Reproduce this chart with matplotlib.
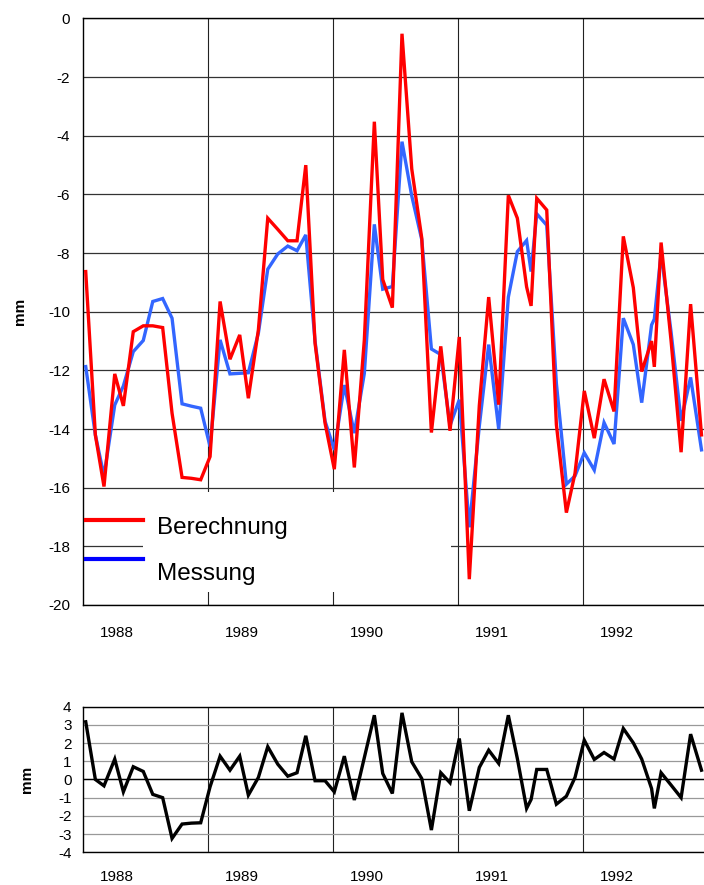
### Berechnung vs. Messung (mm) with difference panel ###

import matplotlib
matplotlib.use("Agg")
import matplotlib.pyplot as plt
from matplotlib.patches import Rectangle

plt.rcParams['font.family'] = ['Liberation Sans', 'DejaVu Sans']
plt.rcParams['axes.unicode_minus'] = False   # plain hyphen like the original

# sample dates as decimal years
dates = [1988.024, 1988.101, 1988.170, 1988.256, 1988.325, 1988.404, 1988.484, 1988.560, 1988.639, 1988.714, 1988.794, 1988.868, 1988.943,
         1989.018, 1989.098, 1989.177, 1989.255, 1989.324, 1989.404, 1989.479, 1989.559, 1989.639, 1989.713, 1989.783, 1989.857, 1989.937,
         1990.011, 1990.091, 1990.171, 1990.251, 1990.331, 1990.398, 1990.475, 1990.552, 1990.630, 1990.710, 1990.787, 1990.862, 1990.936,
         1991.010, 1991.090, 1991.170, 1991.245, 1991.325, 1991.402, 1991.474, 1991.548, 1991.584, 1991.629, 1991.709, 1991.786, 1991.866, 1991.935,
         1992.009, 1992.089, 1992.167, 1992.247, 1992.321, 1992.401, 1992.468, 1992.547, 1992.569, 1992.623, 1992.703, 1992.783, 1992.859, 1992.946]

berechnung = [-8.63, -14.2, -15.96, -12.12, -13.21, -10.68, -10.48, -10.48, -10.54, -13.46, -15.65, -15.68, -15.73,
              -14.94, -9.65, -11.62, -10.79, -12.95, -10.62, -6.81, -7.19, -7.58, -7.58, -5.0, -11.07, -13.8,
              -15.37, -11.3, -15.31, -10.96, -3.52, -8.9, -9.86, -0.52, -5.13, -7.49, -14.12, -11.18, -14.06,
              -10.86, -19.12, -13.2, -9.5, -13.17, -6.03, -6.81, -9.15, -9.8, -6.13, -6.53, -13.85, -16.85, -15.51,
              -12.7, -14.31, -12.3, -13.4, -7.43, -9.18, -12.04, -11.0, -11.88, -7.64, -11.0, -14.79, -9.74, -14.2]

messung = [-11.87, -14.2, -15.6, -13.18, -12.53, -11.36, -10.98, -9.65, -9.55, -10.22, -13.14, -13.22, -13.29,
           -14.6, -10.96, -12.12, -12.1, -12.08, -10.73, -8.55, -8.03, -7.76, -7.92, -7.38, -11.0, -13.73,
           -14.71, -12.5, -14.14, -12.1, -7.02, -9.23, -9.14, -4.2, -6.05, -7.54, -11.27, -11.46, -13.88,
           -13.0, -17.35, -13.9, -11.12, -14.0, -9.5, -7.95, -7.57, -8.63, -6.66, -7.05, -12.44, -15.88, -15.6,
           -14.81, -15.4, -13.78, -14.51, -10.22, -11.12, -13.1, -10.45, -10.25, -8.0, -10.7, -13.72, -12.24, -14.71]

differenz = [3.17, 0.0, -0.35, 1.12, -0.68, 0.70, 0.44, -0.82, -1.0, -3.24, -2.45, -2.40, -2.38,
             -0.40, 1.28, 0.51, 1.28, -0.86, 0.11, 1.80, 0.84, 0.18, 0.37, 2.40, -0.07, -0.07,
             -0.68, 1.28, -1.13, 1.2, 3.53, 0.33, -0.77, 3.66, 0.97, 0.05, -2.78, 0.37, -0.18,
             2.25, -1.72, 0.66, 1.61, 0.88, 3.53, 1.15, -1.59, -1.1, 0.55, 0.55, -1.36, -0.92, 0.11,
             2.16, 1.10, 1.48, 1.12, 2.80, 2.01, 1.12, -0.5, -1.59, 0.37, -0.31, -1.0, 2.49, 0.51]

years = [1988, 1989, 1990, 1991, 1992]
year_labels = ['1988', '1989', '1990', '1991', '1992']

x_min, x_max = 1988.0, 1992.966
label_shift = 0.27   # year labels sit a bit after the gridline


def style_axes(ax, ylim, ystep, hcolor, pad_x, pad_y):
    ax.set_xlim(x_min, x_max)
    ax.set_ylim(*ylim)
    ax.set_yticks(range(ylim[0], ylim[1] + 1, ystep))
    ax.set_xticks(years[1:])
    ax.set_xticklabels([])
    ax.set_xticks([y + label_shift for y in years], minor=True)
    ax.set_xticklabels(year_labels, minor=True)
    ax.tick_params(which='both', length=0, labelsize=11)
    ax.tick_params(axis='x', which='minor', pad=pad_x)
    ax.tick_params(axis='y', pad=pad_y)
    ax.set_axisbelow(True)
    ax.grid(axis='x', which='major', color='#222222', lw=0.8)
    ax.grid(axis='y', color=hcolor, lw=0.9)
    ax.spines['right'].set_visible(False)
    for s in ['left', 'top', 'bottom']:
        ax.spines[s].set_linewidth(1.0)


fig = plt.figure(figsize=(7.04, 8.85), dpi=100)

# top panel: calculated vs measured
ax1 = fig.add_axes([0.1175, 0.3164, 0.8825, 0.6627])
style_axes(ax1, (-20, 0), 2, '#333333', 15, 9)
ax1.plot(dates, messung, color='#3366FF', lw=2.4, zorder=3, solid_joinstyle='miter')
ax1.plot(dates, berechnung, color='#FF0000', lw=2.4, zorder=4, solid_joinstyle='miter')
ax1.set_ylabel('mm', fontweight='bold', fontsize=11, labelpad=15)

# legend block (white box hides the grid behind the text)
ax1.add_patch(Rectangle((1988.483, -19.55), 2.461, 3.41, facecolor='white',
                        edgecolor='none', zorder=2.5))
ax1.plot([1988.024, 1988.48], [-17.1, -17.1], color='#FF0000', lw=3, zorder=5)
ax1.plot([1988.024, 1988.48], [-18.44, -18.44], color='#0000FF', lw=3, zorder=5)
ax1.text(1988.596, -17.36, 'Berechnung', fontsize=17.5, va='center', zorder=6)
ax1.text(1988.596, -18.94, 'Messung', fontsize=17.5, va='center', zorder=6)

# bottom panel: difference
ax2 = fig.add_axes([0.1175, 0.0370, 0.8825, 0.1645])
style_axes(ax2, (-4, 4), 1, '#999999', 13, 8)
ax2.axhline(0, color='black', lw=1.0, zorder=2)
ax2.plot(dates, differenz, color='black', lw=2.4, zorder=3, solid_joinstyle='miter')
ax2.set_ylabel('mm', fontweight='bold', fontsize=11, labelpad=17)

fig.savefig('out.png', dpi=100)
